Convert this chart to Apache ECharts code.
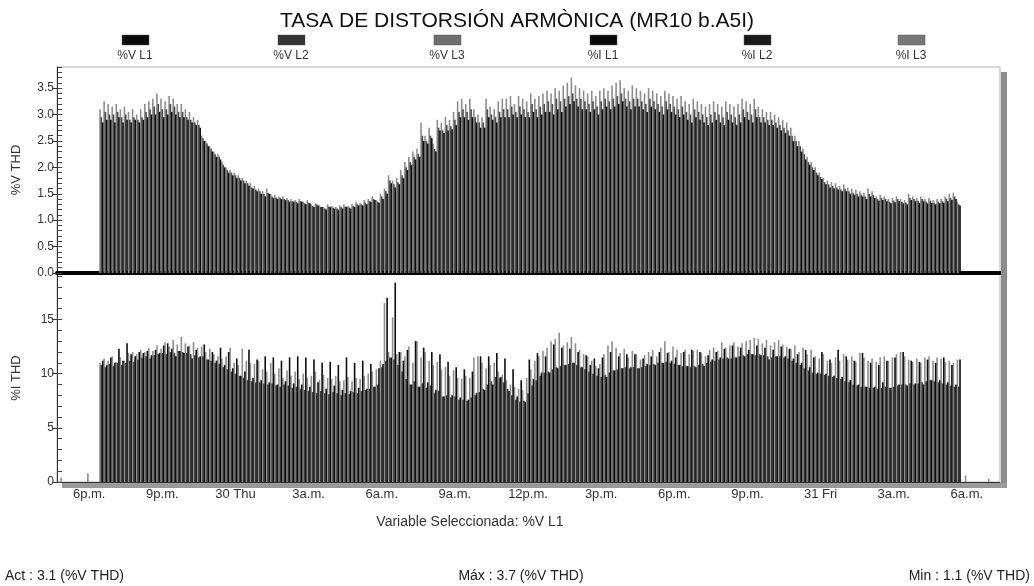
<!DOCTYPE html>
<html><head><meta charset="utf-8">
<script src="https://cdn.jsdelivr.net/npm/echarts@6/dist/echarts.min.js"></script>
<style>html,body{margin:0;padding:0;background:#fff;}#c{width:1034px;height:586px;}</style>
</head><body><div id="c"></div>
<script>
// time of first sample (hours from 29th 00:00) and sampling step (10 min)
const startHour = 18.5;
const stepHours = 1 / 6;

const vL1 = [2.85,2.9,2.9,2.85,2.95,2.85,2.9,2.85,2.9,2.85,
 2.9,2.95,3.0,3.0,3.05,2.95,3.0,3.05,3.0,2.95,
 2.95,2.9,2.85,2.8,2.75,2.5,2.4,2.3,2.2,2.15,
 2.0,1.9,1.85,1.8,1.75,1.7,1.65,1.6,1.55,1.5,
 1.45,1.5,1.42,1.4,1.4,1.38,1.35,1.35,1.32,1.35,
 1.3,1.32,1.25,1.28,1.25,1.2,1.25,1.22,1.2,1.22,
 1.25,1.22,1.25,1.28,1.28,1.3,1.35,1.38,1.33,1.4,
 1.5,1.7,1.62,1.68,1.8,1.95,2.05,2.15,2.2,2.5,
 2.45,2.55,2.3,2.7,2.65,2.7,2.72,2.8,2.95,2.95,
 2.9,2.95,2.85,2.75,2.75,2.95,2.9,2.85,2.95,2.95,
 2.95,3.0,2.95,3.0,2.95,2.95,3.05,2.95,3.0,3.05,
 3.05,3.0,3.1,3.05,3.15,3.2,3.25,3.15,3.1,3.1,
 3.05,3.1,3.0,3.1,3.15,3.1,3.15,3.2,3.25,3.15,
 3.1,3.15,3.15,3.1,3.05,3.15,3.1,3.05,3.0,3.1,
 3.05,3.0,2.95,3.0,2.9,2.85,2.95,2.9,2.85,2.8,
 2.85,2.9,2.85,2.8,2.9,2.85,2.8,2.85,2.95,2.9,
 2.85,2.95,2.85,2.85,2.8,2.8,2.75,2.7,2.65,2.6,
 2.5,2.4,2.3,2.15,2.05,1.95,1.85,1.78,1.68,1.62,
 1.6,1.58,1.55,1.55,1.5,1.48,1.45,1.45,1.4,1.45,
 1.42,1.37,1.38,1.36,1.32,1.34,1.36,1.32,1.3,1.38,
 1.36,1.33,1.36,1.32,1.33,1.3,1.32,1.33,1.36,1.38,1.4,1.28];

const vL2 = [2.95,3.05,3.0,3.0,3.05,2.95,3.0,2.9,2.95,2.9,
 2.95,3.05,3.1,3.15,3.2,3.1,3.1,3.2,3.15,3.05,
 3.05,2.95,2.9,2.85,2.8,2.55,2.45,2.35,2.25,2.2,
 2.05,1.95,1.9,1.85,1.8,1.75,1.7,1.62,1.58,1.55,
 1.5,1.52,1.45,1.43,1.42,1.4,1.38,1.36,1.35,1.36,
 1.32,1.33,1.27,1.3,1.25,1.22,1.26,1.24,1.22,1.25,
 1.26,1.24,1.27,1.3,1.3,1.33,1.36,1.4,1.35,1.45,
 1.55,1.75,1.68,1.72,1.85,2.0,2.1,2.2,2.25,2.6,
 2.5,2.6,2.35,2.75,2.7,2.8,2.78,2.9,3.05,3.1,
 3.05,3.1,2.95,2.85,2.85,3.1,3.0,2.95,3.05,3.1,
 3.1,3.15,3.05,3.15,3.1,3.05,3.2,3.1,3.15,3.2,
 3.25,3.2,3.3,3.25,3.3,3.35,3.4,3.3,3.3,3.25,
 3.2,3.25,3.15,3.25,3.3,3.25,3.3,3.35,3.4,3.3,
 3.25,3.3,3.3,3.25,3.2,3.3,3.25,3.2,3.15,3.25,
 3.2,3.15,3.1,3.15,3.05,3.0,3.1,3.05,3.0,2.95,
 3.0,3.05,3.0,2.95,3.05,3.0,2.95,3.0,3.1,3.05,
 3.0,3.1,2.95,2.95,2.9,2.9,2.85,2.8,2.75,2.7,
 2.6,2.5,2.4,2.25,2.1,2.0,1.9,1.82,1.72,1.68,
 1.65,1.62,1.58,1.6,1.55,1.52,1.5,1.48,1.45,1.5,
 1.48,1.4,1.42,1.4,1.35,1.37,1.4,1.35,1.33,1.42,
 1.4,1.37,1.4,1.35,1.37,1.33,1.35,1.36,1.4,1.42,1.45,1.3];

const vL3 = [3.1,3.25,3.2,3.15,3.2,3.1,3.15,3.05,3.1,3.0,
 3.1,3.2,3.25,3.3,3.4,3.3,3.25,3.35,3.3,3.2,
 3.2,3.1,3.05,2.95,2.9,2.6,2.5,2.4,2.3,2.25,
 2.1,2.0,1.95,1.9,1.85,1.8,1.75,1.7,1.65,1.6,
 1.55,1.6,1.5,1.48,1.45,1.45,1.42,1.4,1.38,1.4,
 1.35,1.38,1.3,1.32,1.28,1.25,1.3,1.27,1.25,1.28,
 1.3,1.27,1.3,1.35,1.33,1.38,1.4,1.45,1.38,1.5,
 1.6,1.85,1.75,1.8,1.95,2.1,2.2,2.3,2.35,2.85,
 2.6,2.75,2.45,2.9,2.85,2.95,2.9,3.05,3.25,3.3,
 3.2,3.3,3.1,3.0,2.95,3.3,3.15,3.1,3.25,3.3,
 3.3,3.35,3.2,3.35,3.3,3.25,3.4,3.3,3.35,3.4,
 3.45,3.4,3.5,3.45,3.55,3.6,3.7,3.55,3.5,3.45,
 3.4,3.45,3.35,3.45,3.5,3.45,3.55,3.6,3.65,3.5,
 3.45,3.55,3.5,3.45,3.4,3.5,3.45,3.4,3.35,3.45,
 3.4,3.35,3.3,3.35,3.25,3.2,3.3,3.25,3.2,3.15,
 3.2,3.25,3.2,3.15,3.25,3.2,3.15,3.2,3.3,3.25,
 3.2,3.3,3.15,3.1,3.05,3.05,3.0,2.95,2.9,2.85,
 2.75,2.6,2.5,2.35,2.2,2.1,2.0,1.9,1.8,1.75,
 1.72,1.7,1.65,1.68,1.62,1.6,1.58,1.55,1.52,1.6,
 1.55,1.45,1.48,1.45,1.4,1.42,1.45,1.4,1.38,1.5,
 1.45,1.42,1.45,1.4,1.42,1.38,1.4,1.4,1.45,1.5,1.52,1.35];

const iL1 = [11.2,10.8,11.5,11.0,12.3,11.2,12.8,11.8,11.6,12.0,
 11.9,12.1,11.7,12.2,11.9,12.6,12.8,12.3,11.6,12.1,
 11.9,12.5,11.4,12.2,11.6,12.7,11.3,12.0,11.2,12.4,
 10.8,12.0,10.5,11.4,9.8,10.2,12.2,9.6,11.3,9.4,
 11.6,9.2,11.5,9.0,11.2,9.3,11.5,9.1,11.6,9.0,
 11.5,8.8,11.3,9.2,11.0,8.6,11.1,8.9,10.8,8.5,
 11.5,8.4,11.0,8.7,11.2,8.6,10.9,8.8,10.5,10.9,
 17.0,11.5,18.4,12.0,11.2,12.2,9.0,13.0,8.8,12.4,
 9.2,12.0,8.5,11.8,7.9,11.1,8.0,10.6,7.8,10.4,
 7.6,10.2,8.2,11.6,8.5,11.6,9.0,11.9,9.7,11.4,
 8.4,10.4,7.9,9.4,7.4,11.3,9.5,11.9,10.1,11.6,
 10.1,12.7,10.5,12.4,10.8,12.3,11.0,12.0,10.6,11.7,
 10.8,11.4,10.5,11.5,9.7,12.0,10.3,11.6,10.5,11.8,
 10.6,11.8,10.5,11.4,10.9,11.6,10.8,12.0,11.0,11.9,
 11.2,11.5,10.8,12.0,10.7,12.2,10.6,12.0,10.7,11.7,
 11.3,12.0,11.5,12.3,11.4,12.6,11.5,12.4,11.6,12.2,
 11.8,12.6,11.7,12.4,11.3,12.2,11.6,12.5,11.6,12.3,
 11.4,11.8,11.0,12.2,10.6,11.5,10.1,12.0,10.0,11.3,
 9.8,12.2,9.7,11.6,9.4,11.2,9.0,11.9,8.8,11.0,
 8.8,10.8,9.2,11.2,8.7,11.5,9.0,12.0,8.9,11.2,
 9.1,11.1,9.0,11.3,9.4,11.0,9.4,11.5,9.2,10.8,9.0,11.3];

const iL2 = [10.8,10.6,10.9,10.7,11.0,10.8,11.0,11.2,11.1,11.3,
 11.5,11.6,11.4,11.7,11.8,11.9,11.8,12.0,11.9,12.1,
 12.0,11.9,11.8,11.7,11.5,11.6,11.3,11.2,11.0,10.9,
 10.6,10.4,10.2,10.0,9.8,9.6,9.4,9.3,9.2,9.2,
 9.1,9.0,9.1,8.9,8.8,9.0,8.9,8.7,8.8,8.6,
 8.5,8.4,8.3,8.2,8.4,8.2,8.1,8.3,8.2,8.0,
 8.2,8.1,8.3,8.2,8.4,8.5,8.6,8.8,9.0,10.6,
 11.2,11.5,11.3,10.8,10.2,9.5,9.0,9.3,8.8,9.1,
 8.7,8.9,8.2,8.4,7.9,8.0,7.8,7.9,7.6,7.6,
 7.5,7.8,8.0,8.3,8.6,9.0,9.3,9.7,9.6,9.2,
 8.6,8.0,7.6,7.4,7.5,8.2,8.9,9.4,9.8,10.1,
 10.2,10.4,10.6,10.7,10.8,10.9,11.0,10.8,10.6,10.4,
 10.2,10.0,9.8,9.7,9.9,10.1,10.3,10.4,10.5,10.6,
 10.5,10.6,10.5,10.6,10.7,10.8,10.9,11.0,11.0,11.1,
 11.0,10.9,10.8,10.7,10.7,10.6,10.7,10.8,10.9,11.0,
 11.1,11.2,11.3,11.4,11.5,11.4,11.5,11.6,11.7,11.8,
 11.8,11.7,11.8,11.7,11.6,11.5,11.6,11.6,11.5,11.4,
 11.2,11.0,10.8,10.5,10.3,10.1,10.0,10.0,9.9,9.8,
 9.7,9.6,9.5,9.3,9.2,9.0,8.9,8.8,8.8,8.7,
 8.7,8.6,8.7,8.8,8.7,8.8,8.9,9.0,9.0,9.1,
 9.0,9.1,9.2,9.3,9.4,9.3,9.2,9.1,9.0,8.9,8.8,8.8];

const iL3 = [11.0,11.4,11.2,11.6,11.1,11.5,11.2,11.9,12.0,11.8,
 12.2,12.0,12.4,12.1,12.6,12.3,12.9,12.5,13.1,12.7,
 13.4,12.8,12.6,12.9,12.4,12.5,12.0,12.3,11.8,11.6,
 11.4,11.6,12.4,11.0,10.8,12.3,11.2,11.0,10.9,11.2,
 10.4,10.2,11.0,10.0,10.5,9.6,10.3,9.8,10.2,9.5,
 10.0,9.6,9.8,10.2,9.4,9.9,9.6,9.5,9.8,9.3,
 9.4,9.7,9.3,9.6,9.5,9.8,10.0,10.2,10.4,11.2,
 16.5,12.0,15.2,11.8,12.0,11.6,12.5,11.0,13.0,11.5,
 12.0,11.2,10.8,11.1,10.4,10.6,9.8,10.3,9.6,9.5,
 9.8,9.6,11.5,11.6,11.0,10.5,10.8,11.0,10.2,9.9,
 9.4,9.0,8.8,8.6,8.5,9.6,10.4,11.2,11.6,12.1,
 12.4,13.0,13.2,13.8,12.6,12.9,13.4,12.8,12.2,11.8,
 11.6,11.2,10.7,10.9,11.8,12.6,13.0,12.4,11.9,12.3,
 11.5,12.1,11.8,11.3,11.7,12.0,12.2,11.6,12.4,13.0,
 12.0,12.5,12.2,11.9,12.2,11.8,12.1,12.2,11.9,11.6,
 12.2,12.4,12.1,12.9,12.4,12.6,12.9,12.5,12.8,13.0,
 13.1,13.3,13.2,12.8,13.1,12.6,12.9,13.1,12.7,12.5,
 12.3,12.6,12.0,12.4,11.8,12.2,11.6,11.4,11.8,11.2,
 11.0,11.5,11.2,11.8,11.3,11.6,11.1,11.9,11.5,11.2,
 11.4,11.1,11.5,11.6,11.2,11.5,11.8,12.0,11.6,11.3,
 11.1,11.4,11.0,11.5,11.6,11.2,11.5,11.4,11.1,11.2,11.0,11.3];

// isolated small current readings outside the main record
const strayHours = [16.9, 18.0, 54.0, 54.95];
const strayI = [0.4, 0.8, 0.6, 0.3];

const tickHours = [18, 21, 24, 27, 30, 33, 36, 39, 42, 45, 48, 51, 54];
const tickLabels = ['6p.m.', '9p.m.', '30 Thu', '3a.m.', '6a.m.', '9a.m.', '12p.m.', '3p.m.', '6p.m.', '9p.m.', '31 Fri', '3a.m.', '6a.m.'];
const vTicks = [0, 0.5, 1.0, 1.5, 2.0, 2.5, 3.0, 3.5];
const iTicks = [0, 5, 10, 15];
const legendNames = ['%V L1', '%V L2', '%V L3', '%I L1', '%I L2', '%I L3'];

const colors = ['#0e0e0e', '#4a4a4a', '#8c8c8c', '#0e0e0e', '#3c3c3c', '#8e8e8e'];
const legendColors = ['#0a0a0a', '#333333', '#6e6e6e', '#0a0a0a', '#1a1a1a', '#777777'];
const legendX = [135, 291, 447, 603, 757, 911];

const FONT = 'Liberation Sans, Arial, sans-serif';
const X_MIN = 16.68, X_MAX = 55.36;
const V_MAX = 3.9, I_MAX = 19.2;

const vMinor = []; for (let k = 0; k <= 39; k++) vMinor.push(+(k * 0.1).toFixed(1));
const iMinor = []; for (let k = 0; k <= 19; k++) iMinor.push(k);

const toPairs = arr => arr.map((v, i) => [startHour + i * stepHours, v]);

const chart = echarts.init(document.getElementById('c'), null, {renderer: 'canvas'});

const barCommon = {type: 'bar', barWidth: 1.6, barGap: '-18%', animation: false, large: false};

const series = [
  Object.assign({}, barCommon, {name: legendNames[2], xAxisIndex: 0, yAxisIndex: 0, data: toPairs(vL3), itemStyle: {color: colors[2]}}),
  Object.assign({}, barCommon, {name: legendNames[1], xAxisIndex: 0, yAxisIndex: 0, data: toPairs(vL2), itemStyle: {color: colors[1]}}),
  Object.assign({}, barCommon, {name: legendNames[0], xAxisIndex: 0, yAxisIndex: 0, data: toPairs(vL1), itemStyle: {color: colors[0]}}),
  Object.assign({}, barCommon, {name: legendNames[5], xAxisIndex: 1, yAxisIndex: 2,
    data: toPairs(iL3).concat(strayHours.map((h, k) => [h, strayI[k]])), itemStyle: {color: colors[5]}}),
  Object.assign({}, barCommon, {name: legendNames[4], xAxisIndex: 1, yAxisIndex: 2, data: toPairs(iL2), itemStyle: {color: colors[4]}}),
  Object.assign({}, barCommon, {name: legendNames[3], xAxisIndex: 1, yAxisIndex: 2, data: toPairs(iL1), itemStyle: {color: colors[3]}})
];

const graphics = [];
// frame shadow (right and bottom)
graphics.push({type: 'rect', shape: {x: 1001, y: 72, width: 6, height: 416}, style: {fill: '#8c8c8c'}, z: 1});
graphics.push({type: 'rect', shape: {x: 62, y: 483, width: 945, height: 5}, style: {fill: '#9a9a9a'}, z: 1});
legendNames.forEach((n, k) => {
  graphics.push({type: 'rect', shape: {x: legendX[k] - 13, y: 35, width: 27, height: 10}, style: {fill: legendColors[k], stroke: '#555', lineWidth: 0.5}});
  graphics.push({type: 'text', x: legendX[k], y: 56, style: {text: n, fill: '#333', font: '12px ' + FONT, textAlign: 'center', textVerticalAlign: 'middle'}});
});
graphics.push({type: 'text', x: 470, y: 522, style: {text: 'Variable Seleccionada: %V L1', fill: '#333', font: '14px ' + FONT, textAlign: 'center', textVerticalAlign: 'middle'}});
graphics.push({type: 'text', x: 5, y: 576, style: {text: 'Act : 3.1 (%V THD)', fill: '#222', font: '14px ' + FONT, textAlign: 'left', textVerticalAlign: 'middle'}});
graphics.push({type: 'text', x: 521, y: 576, style: {text: 'Máx : 3.7 (%V THD)', fill: '#222', font: '14px ' + FONT, textAlign: 'center', textVerticalAlign: 'middle'}});
graphics.push({type: 'text', x: 1030, y: 576, style: {text: 'Min : 1.1 (%V THD)', fill: '#222', font: '14px ' + FONT, textAlign: 'right', textVerticalAlign: 'middle'}});

const option = {
  backgroundColor: '#ffffff',
  animation: false,
  textStyle: {fontFamily: FONT},
  title: {
    text: 'TASA DE DISTORSIÓN ARMÒNICA (MR10 b.A5I)',
    left: 'center', top: 6,
    textStyle: {fontSize: 21, fontWeight: 'normal', color: '#111', fontFamily: FONT}
  },
  grid: [
    {left: 57, right: 34, top: 67, height: 206, show: true, borderColor: '#b0b0b0', borderWidth: 1, backgroundColor: 'transparent'},
    {left: 57, right: 34, top: 274, height: 208, show: true, borderColor: '#b0b0b0', borderWidth: 1, backgroundColor: 'transparent'}
  ],
  xAxis: [
    {type: 'value', gridIndex: 0, min: X_MIN, max: X_MAX,
      axisLine: {show: true, onZero: true, lineStyle: {color: '#000', width: 4}},
      axisTick: {show: false}, axisLabel: {show: false}, splitLine: {show: false}},
    {type: 'value', gridIndex: 1, min: X_MIN, max: X_MAX,
      axisLine: {show: true, onZero: false, lineStyle: {color: '#333', width: 1}},
      axisTick: {show: true, customValues: tickHours, length: 5, lineStyle: {color: '#333'}},
      axisLabel: {show: true, customValues: tickHours, color: '#333', fontSize: 13, margin: 6,
        formatter: v => { const k = tickHours.indexOf(Math.round(v)); return k >= 0 ? tickLabels[k] : ''; }},
      splitLine: {show: false}}
  ],
  yAxis: [
    {type: 'value', gridIndex: 0, min: 0, max: V_MAX, position: 'left',
      name: '%V THD', nameLocation: 'middle', nameGap: 34, nameRotate: 90,
      nameTextStyle: {color: '#333', fontSize: 13},
      axisLine: {show: true, lineStyle: {color: '#333'}},
      axisTick: {show: true, customValues: vTicks, length: 5, lineStyle: {color: '#333'}},
      axisLabel: {show: true, customValues: vTicks, color: '#333', fontSize: 12, margin: 3,
        formatter: v => v.toFixed(1)},
      splitLine: {show: false}},
    {type: 'value', gridIndex: 0, min: 0, max: V_MAX, position: 'left',
      axisLine: {show: false},
      axisTick: {show: true, inside: true, customValues: vMinor, length: 5, lineStyle: {color: '#444'}},
      axisLabel: {show: false}, splitLine: {show: false}},
    {type: 'value', gridIndex: 1, min: 0, max: I_MAX, position: 'left',
      name: '%I THD', nameLocation: 'middle', nameGap: 34, nameRotate: 90,
      nameTextStyle: {color: '#333', fontSize: 13},
      axisLine: {show: true, lineStyle: {color: '#333'}},
      axisTick: {show: true, customValues: iTicks, length: 5, lineStyle: {color: '#333'}},
      axisLabel: {show: true, customValues: iTicks, color: '#333', fontSize: 12, margin: 3},
      splitLine: {show: false}},
    {type: 'value', gridIndex: 1, min: 0, max: I_MAX, position: 'left',
      axisLine: {show: false},
      axisTick: {show: true, inside: true, customValues: iMinor, length: 5, lineStyle: {color: '#444'}},
      axisLabel: {show: false}, splitLine: {show: false}}
  ],
  series: series,
  graphic: graphics
};
chart.setOption(option);
</script>
</body></html>
